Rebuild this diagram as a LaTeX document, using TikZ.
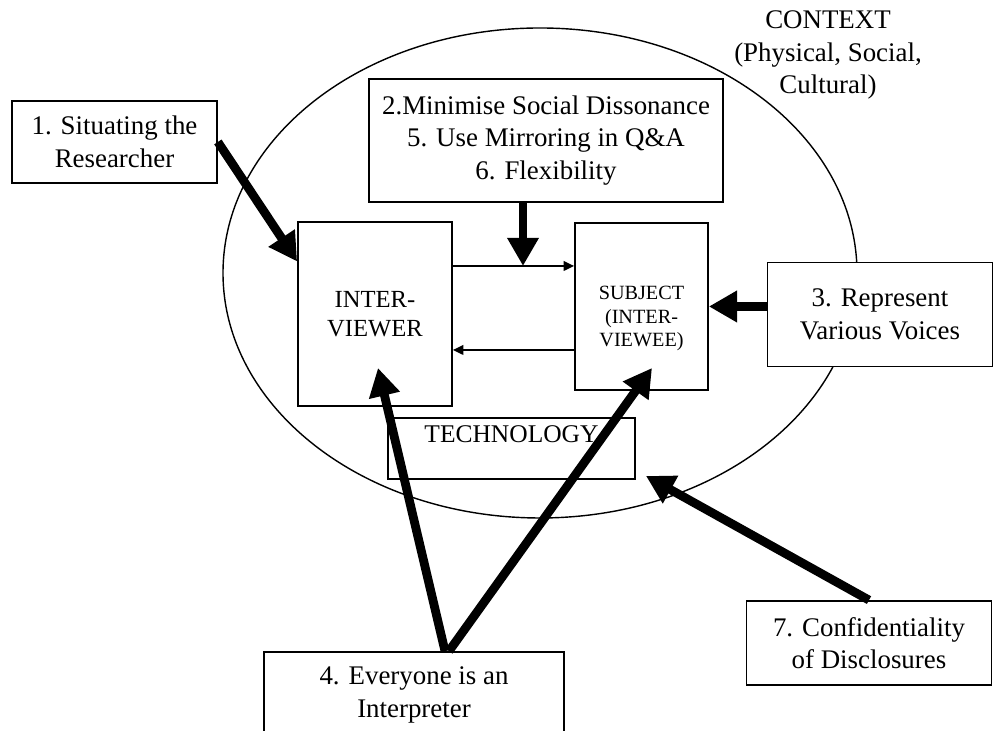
\documentclass[tikz,border=0pt]{standalone}
\usepackage{fontspec}
\setmainfont{Liberation Serif}
\usetikzlibrary{arrows.meta}

\begin{document}
\begin{tikzpicture}[
    every node/.style={font=\fontsize{15.3}{18.5}\selectfont, align=center},
    box/.style={draw, line width=1pt, fill=white, inner sep=0pt},
    bigarrow/.style={line width=5pt, -{Triangle[length=16pt,width=17pt]}},
    thinarrow/.style={line width=1pt, -{Triangle[length=6pt,width=5.5pt]}}
]
    % Page frame
    \useasboundingbox (0,0) rectangle (19.88,14.62);
    \clip (0,0) rectangle (19.88,14.62);

    % Context ellipse
    \draw[line width=0.8pt] (10.8,9.16) ellipse (6.34 and 4.9);
    \node (context) at (16.56,13.52) {CONTEXT\\(Physical, Social,\\Cultural)};

    % Outer boxes
    \node[box, minimum width=4.1cm, minimum height=1.64cm] (situate) at (2.29,11.78) {1. Situating the\\Researcher};
    \node[box, minimum width=7.08cm, minimum height=2.46cm] (mix) at (10.92,11.81) {2.Minimise Social Dissonance\\5. Use Mirroring in Q\&A\\6. Flexibility};
    \node[box, minimum width=4.5cm, minimum height=2.08cm] (voice) at (17.6,8.33) {3. Represent\\Various Voices};
    \node[box, minimum width=6cm, minimum height=1.72cm] (interp) at (8.28,0.72) {4. Everyone is an\\Interpreter};
    \node[box, minimum width=4.9cm, minimum height=1.68cm] (conf) at (17.38,1.76) {7. Confidentiality\\of Disclosures};

    % Inner boxes
    \node[box, minimum width=3.08cm, minimum height=3.68cm, font=\fontsize{14}{16.5}\selectfont] (iv) at (7.5,8.34) {INTER-\\VIEWER};
    \node[box, minimum width=2.66cm, minimum height=3.34cm, label={[yshift=-0.24cm, font=\fontsize{11.5}{13.6}\selectfont]center:{SUBJECT\\(INTER-\\VIEWEE)}}] (subj) at (12.83,8.49) {};
    \node[box, minimum width=4.94cm, minimum height=1.22cm, label={[anchor=north, yshift=-0.05cm, font=\fontsize{14.5}{17}\selectfont]north:TECHNOLOGY}] (tech) at (10.23,5.65) {};

    % Free arrow ends
    \coordinate (meet) at (10.46,9.3);
    \coordinate (low) at (10.46,7.62);
    \coordinate (ivin) at (7.56,7.26);
    \coordinate (subjin) at (13.04,7.26);
    \coordinate (techin) at (12.92,5.1);

    % Thin arrows between the two
    \draw[thinarrow] (meet -| iv.east) -- (meet -| subj.west);
    \draw[thinarrow] (low -| subj.west) -- (low -| iv.east);

    % Thick arrows
    \draw[bigarrow] (situate.east) -- (iv.146);
    \draw[bigarrow] (mix.south -| meet) -- (meet);
    \draw[bigarrow] (voice.west |- subj.east) -- (subj.east);
    \draw[bigarrow] ([xshift=0.62cm]interp.north) -- (ivin);
    \draw[bigarrow] ([xshift=0.7cm]interp.north) -- (subjin);
    \draw[bigarrow] (conf.north) -- (techin);

\end{tikzpicture}
\end{document}
